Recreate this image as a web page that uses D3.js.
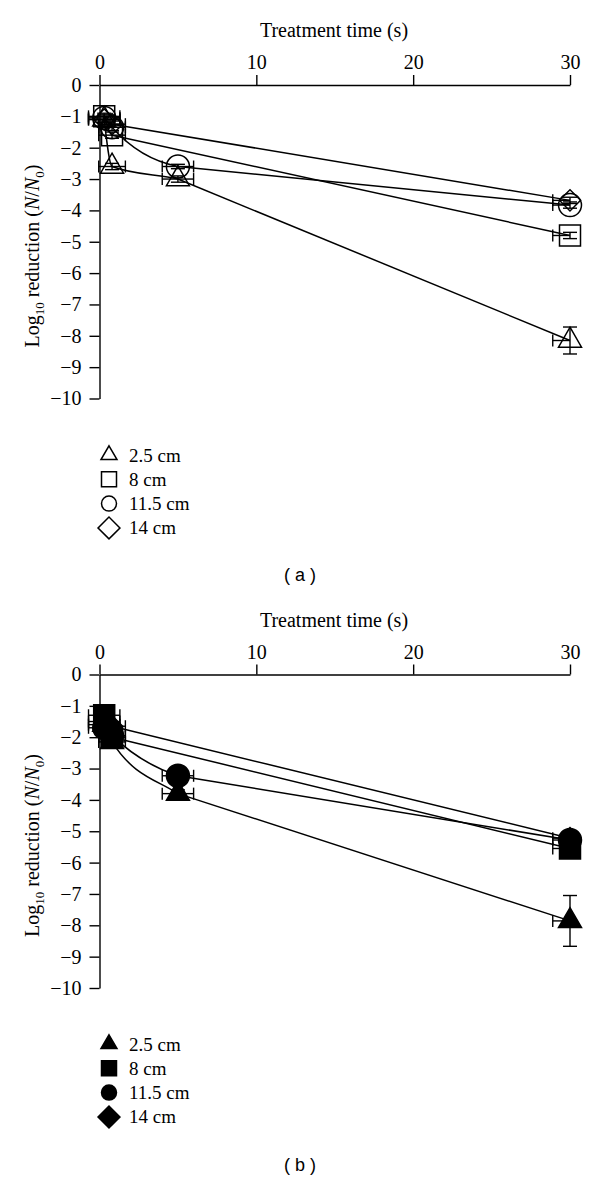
<!DOCTYPE html>
<html><head><meta charset="utf-8">
<script src="https://cdn.jsdelivr.net/npm/d3@7"></script>
<style>body{margin:0;background:#fff}svg{display:block}</style>
</head><body>
<svg id="c" width="600" height="1180"></svg>
<script>
// ---------- data ----------
const seriesNames = ["2.5 cm", "8 cm", "11.5 cm", "14 cm"];
const xTicks = [0, 10, 20, 30];
const yTicks = [0, -1, -2, -3, -4, -5, -6, -7, -8, -9, -10];
const panelLabels = ["( a )", "( b )"];

// panel (a)
const a25_t = [0.3, 0.8, 5, 30],  a25_y = [-1.1, -2.6, -3.0, -8.15], a25_ye = [0.1, 0.1, 0.1, 0.43], a25_xe = [1.0, 0.85, 1.0, 1.1];
const a8_t  = [0.3, 0.8, 30],     a8_y  = [-1.0, -1.6, -4.8],        a8_ye  = [0.1, 0.1, 0.1],        a8_xe  = [1.0, 0.85, 1.1];
const a115_t= [0.3, 0.8, 5, 30],  a115_y= [-1.05, -1.35, -2.6, -3.83],a115_ye= [0.1, 0.1, 0.07, 0.1], a115_xe= [1.0, 0.85, 1.0, 1.1];
const a14_t = [0.3, 0.8, 30],     a14_y = [-1.1, -1.25, -3.68],      a14_ye = [0.1, 0.1, 0.1],        a14_xe = [1.0, 0.85, 1.1];
// panel (b)
const b25_t = [0.3, 0.8, 5, 30],  b25_y = [-1.6, -2.15, -3.8, -7.86],b25_ye = [0.1, 0.1, 0.12, 0.81], b25_xe = [1.0, 0.85, 1.0, 1.1];
const b8_t  = [0.3, 0.8, 30],     b8_y  = [-1.3, -2.0, -5.55],       b8_ye  = [0.1, 0.1, 0.1],        b8_xe  = [1.0, 0.85, 1.1];
const b115_t= [0.3, 0.8, 5, 30],  b115_y= [-1.7, -1.95, -3.23, -5.28],b115_ye= [0.1, 0.1, 0.1, 0.1],  b115_xe= [1.0, 0.85, 1.0, 1.1];
const b14_t = [0.3, 0.8, 30],     b14_y = [-1.5, -1.65, -5.22],      b14_ye = [0.1, 0.1, 0.1],        b14_xe = [1.0, 0.85, 1.1];

function mk(t, y, ye, xe){ return t.map((v,i)=>({t:v, y:y[i], ye:ye[i], xe:xe[i]})); }
const panels = [
  {off:0,   filled:false, label:panelLabels[0], series:[mk(a25_t,a25_y,a25_ye,a25_xe), mk(a8_t,a8_y,a8_ye,a8_xe), mk(a115_t,a115_y,a115_ye,a115_xe), mk(a14_t,a14_y,a14_ye,a14_xe)], legY:455},
  {off:589.5, filled:true, label:panelLabels[1], series:[mk(b25_t,b25_y,b25_ye,b25_xe), mk(b8_t,b8_y,b8_ye,b8_xe), mk(b115_t,b115_y,b115_ye,b115_xe), mk(b14_t,b14_y,b14_ye,b14_xe)], legY:1044}
];

const svg = d3.select("#c");
const defs = svg.append("defs");
const serif = "'Liberation Serif','Times New Roman',serif";
const x = d3.scaleLinear().domain([0, 30]).range([99.5, 570]);

const markerDefs = [
  [d3.symbolTriangle, 229, 0],
  [d3.symbolSquare, 441, 0],
  [d3.symbolCircle, 415, 0],
  [d3.symbolSquare, 225, 45]
];
const legendDefs = [
  [d3.symbolTriangle, 111, 0],
  [d3.symbolSquare, 225, 0],
  [d3.symbolCircle, 177, 0],
  [d3.symbolSquare, 240, 45]
];

let clipId = 0;
panels.forEach(p => {
  const g = svg.append("g");
  const y = d3.scaleLinear().domain([0, -10]).range([85 + p.off, 398.5 + p.off]);

  g.append("text").attr("x", 334).attr("y", 37 + p.off).attr("text-anchor","middle")
    .attr("font-family", serif).attr("font-size", 20).text("Treatment time (s)");

  const xa = g.append("g").attr("transform", `translate(0,${y(0)})`)
    .call(d3.axisTop(x).tickValues(xTicks).tickSize(10).tickSizeOuter(0).tickPadding(6).tickFormat(d3.format("d")));
  xa.select(".domain").attr("stroke","#000").attr("stroke-width",1.4);
  xa.selectAll(".tick line").attr("stroke","#000").attr("stroke-width",1.4);
  xa.selectAll(".tick text").attr("font-family", serif).attr("font-size", 20).attr("fill","#000");

  const ya = g.append("g").attr("transform", `translate(${x(0)},0)`)
    .call(d3.axisLeft(y).tickValues(yTicks).tickSize(10).tickSizeOuter(0).tickPadding(8)
      .tickFormat(d => d === 0 ? "0" : "\u2212" + Math.abs(d)));
  ya.select(".domain").attr("stroke","#000").attr("stroke-width",1.4);
  ya.selectAll(".tick line").attr("stroke","#000").attr("stroke-width",1.4);
  ya.selectAll(".tick text").attr("font-family", serif).attr("font-size", 20).attr("fill","#000");

  const yl = g.append("text").attr("transform", `translate(39,${256 + p.off}) rotate(-90)`)
    .attr("text-anchor","middle").attr("font-family", serif).attr("font-size", 20);
  yl.append("tspan").text("Log");
  yl.append("tspan").attr("font-size", 13).attr("dy", 5).text("10");
  yl.append("tspan").attr("dy", -5).text(" reduction (");
  yl.append("tspan").attr("font-style","italic").text("N");
  yl.append("tspan").text("/");
  yl.append("tspan").attr("font-style","italic").text("N");
  yl.append("tspan").attr("font-size", 13).attr("dy", 5).text("0");
  yl.append("tspan").attr("dy", -5).text(")");

  // lines: smooth early segments, straight final segment
  const smooth = d3.line().x(d => x(d.t)).y(d => y(d.y)).curve(d3.curveMonotoneX);
  const straight = d3.line().x(d => x(d.t)).y(d => y(d.y));
  p.series.forEach(s => {
    const n = s.length;
    const cut = x(s[n-2].t);
    const id = "clip" + (clipId++);
    defs.append("clipPath").attr("id", id).append("rect")
      .attr("x", 0).attr("y", 0).attr("width", cut).attr("height", 1180);
    g.append("path").attr("d", smooth(s)).attr("clip-path", `url(#${id})`)
      .attr("fill","none").attr("stroke","#000").attr("stroke-width",1.5);
    g.append("path").attr("d", straight(s.slice(n-2)))
      .attr("fill","none").attr("stroke","#000").attr("stroke-width",1.5);
  });

  // error bars
  p.series.forEach(s => {
    s.forEach(d => {
      const cx = x(d.t), cy = y(d.y);
      const x1 = x(d.t - d.xe), x2 = x(Math.min(d.t + d.xe, 30));
      g.append("line").attr("x1", x1).attr("x2", x2).attr("y1", cy).attr("y2", cy).attr("stroke","#000").attr("stroke-width",1.4);
      g.append("line").attr("x1", x1).attr("x2", x1).attr("y1", cy-6).attr("y2", cy+6).attr("stroke","#000").attr("stroke-width",1.4);
      if (d.t + d.xe <= 30) g.append("line").attr("x1", x2).attr("x2", x2).attr("y1", cy-6).attr("y2", cy+6).attr("stroke","#000").attr("stroke-width",1.4);
      const y1 = y(d.y + d.ye), y2 = y(d.y - d.ye);
      g.append("line").attr("x1", cx).attr("x2", cx).attr("y1", y1).attr("y2", y2).attr("stroke","#000").attr("stroke-width",1.4);
      [y1, y2].forEach(yy => g.append("line").attr("x1", cx-7).attr("x2", cx+7).attr("y1", yy).attr("y2", yy).attr("stroke","#000").attr("stroke-width",1.4));
    });
  });

  // markers
  p.series.forEach((s, si) => {
    const [type, size, rot] = markerDefs[si];
    const path = d3.symbol().type(type).size(size)();
    s.forEach(d => {
      g.append("path").attr("d", path)
        .attr("transform", `translate(${x(d.t)},${y(d.y)}) rotate(${rot})`)
        .attr("fill", p.filled ? "#000" : "none").attr("stroke", "#000").attr("stroke-width", 1.5);
    });
  });

  // legend
  seriesNames.forEach((name, i) => {
    const ly = p.legY + i * 24.3;
    const [type, size, rot] = legendDefs[i];
    g.append("path").attr("d", d3.symbol().type(type).size(size)())
      .attr("transform", `translate(109,${ly}) rotate(${rot})`)
      .attr("fill", p.filled ? "#000" : "none").attr("stroke","#000").attr("stroke-width", 1.5);
    g.append("text").attr("x", 129).attr("y", ly + 6.5).attr("font-family", serif).attr("font-size", 19).text(name);
  });

  g.append("text").attr("x", 300).attr("y", 581 + p.off).attr("text-anchor","middle")
    .attr("font-family","'Liberation Sans',Arial,sans-serif").attr("font-size", 18).text(p.label);
});
</script>
</body></html>
